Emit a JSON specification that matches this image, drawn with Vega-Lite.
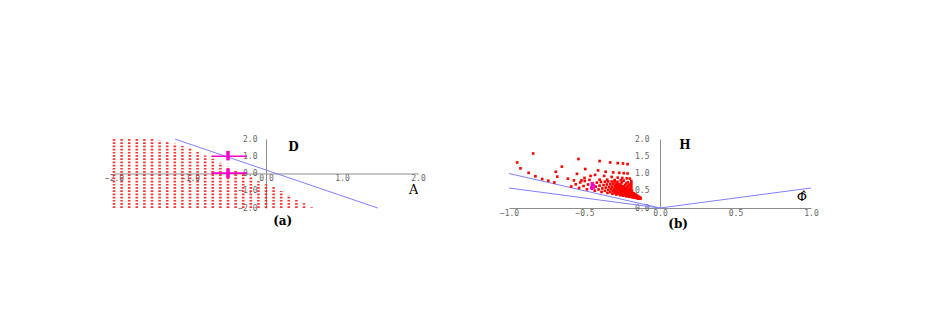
{
  "$schema": "https://vega.github.io/schema/vega-lite/v6.json",
  "background": "white",
  "padding": {"left": 104, "top": 135, "right": 5, "bottom": 5},
  "bounds": "flush",
  "spacing": 91,
  "config": {"view": {"stroke": null}, "axis": {"labelOverlap": false, "labelSeparation": 0, "zindex": 1}},
  "datasets": {
    "cols": [
      {"A": -2.0, "Dlo": -2, "Dhi": 2.0}, {"A": -1.9, "Dlo": -2, "Dhi": 2.0}, {"A": -1.8, "Dlo": -2, "Dhi": 2.0},
      {"A": -1.7, "Dlo": -2, "Dhi": 2.0}, {"A": -1.6, "Dlo": -2, "Dhi": 2.0}, {"A": -1.5, "Dlo": -2, "Dhi": 2.0},
      {"A": -1.4, "Dlo": -2, "Dhi": 1.92}, {"A": -1.3, "Dlo": -2, "Dhi": 1.85}, {"A": -1.2, "Dlo": -2, "Dhi": 1.73},
      {"A": -1.1, "Dlo": -2, "Dhi": 1.6}, {"A": -1.0, "Dlo": -2, "Dhi": 1.45}, {"A": -0.9, "Dlo": -2, "Dhi": 1.25},
      {"A": -0.8, "Dlo": -2, "Dhi": 1.04}, {"A": -0.7, "Dlo": -2, "Dhi": 0.85}, {"A": -0.6, "Dlo": -2, "Dhi": 0.63},
      {"A": -0.5, "Dlo": -2, "Dhi": 0.42}, {"A": -0.4, "Dlo": -2, "Dhi": 0.23}, {"A": -0.3, "Dlo": -2, "Dhi": 0.0},
      {"A": -0.2, "Dlo": -2, "Dhi": -0.22}, {"A": -0.1, "Dlo": -2, "Dhi": -0.45}, {"A": 0.0, "Dlo": -2, "Dhi": -0.63},
      {"A": 0.1, "Dlo": -2, "Dhi": -0.77}, {"A": 0.2, "Dlo": -2, "Dhi": -1.02}, {"A": 0.3, "Dlo": -2, "Dhi": -1.25},
      {"A": 0.4, "Dlo": -2, "Dhi": -1.54}, {"A": 0.5, "Dlo": -2, "Dhi": -1.73}, {"A": 0.6, "Dlo": -2, "Dhi": -1.96}
    ],
    "lineA": [{"x": -1.2, "y": 2.0, "x2": 1.47, "y2": -2.0}],
    "magH": [{"x": -0.72, "x2": -0.25, "y": 1.0}, {"x": -0.72, "x2": -0.25, "y": 0.02}],
    "magV": [{"x": -0.5, "y": 0.76, "y2": 1.31}, {"x": -0.5, "y": -0.26, "y2": 0.28}],
    "textA": [{"x": 0.36, "y": 1.55, "t": "D"}, {"x": 0.22, "y": -2.74, "t": "(a)"}],
    "textAx": [{"x": 1.88, "y": -0.95, "t": "A"}],
    "linesB": [
      {"x": -1, "y": 1.0, "x2": 0, "y2": 0},
      {"x": -1, "y": 0.58, "x2": 0, "y2": 0},
      {"x": 0, "y": 0, "x2": 1, "y2": 0.58}
    ],
    "ptsB": [
      {"phi": -0.133, "H": 0.270}, {"phi": -0.146, "H": 0.280}, {"phi": -0.159, "H": 0.290}, {"phi": -0.172, "H": 0.300},
      {"phi": -0.185, "H": 0.310}, {"phi": -0.205, "H": 0.326}, {"phi": -0.224, "H": 0.341}, {"phi": -0.244, "H": 0.356},
      {"phi": -0.263, "H": 0.371}, {"phi": -0.289, "H": 0.391}, {"phi": -0.315, "H": 0.411}, {"phi": -0.348, "H": 0.436},
      {"phi": -0.387, "H": 0.467}, {"phi": -0.432, "H": 0.502}, {"phi": -0.484, "H": 0.542}, {"phi": -0.536, "H": 0.583},
      {"phi": -0.588, "H": 0.623},
      {"phi": -0.139, "H": 0.279}, {"phi": -0.165, "H": 0.304}, {"phi": -0.191, "H": 0.329}, {"phi": -0.213, "H": 0.351},
      {"phi": -0.233, "H": 0.370}, {"phi": -0.252, "H": 0.389}, {"phi": -0.275, "H": 0.410}, {"phi": -0.300, "H": 0.436},
      {"phi": -0.329, "H": 0.464}, {"phi": -0.365, "H": 0.498}, {"phi": -0.407, "H": 0.539}, {"phi": -0.455, "H": 0.586},
      {"phi": -0.506, "H": 0.636}, {"phi": -0.558, "H": 0.686},
      {"phi": -0.133, "H": 0.275}, {"phi": -0.146, "H": 0.290}, {"phi": -0.158, "H": 0.305}, {"phi": -0.171, "H": 0.320},
      {"phi": -0.184, "H": 0.335}, {"phi": -0.203, "H": 0.358}, {"phi": -0.222, "H": 0.380}, {"phi": -0.241, "H": 0.403},
      {"phi": -0.260, "H": 0.425}, {"phi": -0.286, "H": 0.455}, {"phi": -0.311, "H": 0.485}, {"phi": -0.343, "H": 0.523},
      {"phi": -0.382, "H": 0.568}, {"phi": -0.426, "H": 0.620}, {"phi": -0.477, "H": 0.681}, {"phi": -0.528, "H": 0.741},
      {"phi": -0.139, "H": 0.286}, {"phi": -0.164, "H": 0.321}, {"phi": -0.189, "H": 0.356}, {"phi": -0.211, "H": 0.386},
      {"phi": -0.230, "H": 0.412}, {"phi": -0.249, "H": 0.439}, {"phi": -0.271, "H": 0.469}, {"phi": -0.296, "H": 0.504},
      {"phi": -0.325, "H": 0.543}, {"phi": -0.359, "H": 0.591}, {"phi": -0.400, "H": 0.648}, {"phi": -0.448, "H": 0.713},
      {"phi": -0.498, "H": 0.783},
      {"phi": -0.132, "H": 0.280}, {"phi": -0.145, "H": 0.300}, {"phi": -0.157, "H": 0.319}, {"phi": -0.170, "H": 0.339},
      {"phi": -0.182, "H": 0.359}, {"phi": -0.201, "H": 0.389}, {"phi": -0.219, "H": 0.419}, {"phi": -0.238, "H": 0.448},
      {"phi": -0.256, "H": 0.478}, {"phi": -0.281, "H": 0.518}, {"phi": -0.306, "H": 0.557}, {"phi": -0.337, "H": 0.607},
      {"phi": -0.374, "H": 0.666}, {"phi": -0.418, "H": 0.736}, {"phi": -0.467, "H": 0.815},
      {"phi": -0.138, "H": 0.293}, {"phi": -0.163, "H": 0.338}, {"phi": -0.187, "H": 0.382}, {"phi": -0.208, "H": 0.421},
      {"phi": -0.227, "H": 0.454}, {"phi": -0.245, "H": 0.487}, {"phi": -0.266, "H": 0.526}, {"phi": -0.291, "H": 0.571},
      {"phi": -0.318, "H": 0.620}, {"phi": -0.352, "H": 0.681}, {"phi": -0.391, "H": 0.754},
      {"phi": -0.132, "H": 0.285}, {"phi": -0.144, "H": 0.309}, {"phi": -0.156, "H": 0.334}, {"phi": -0.168, "H": 0.358},
      {"phi": -0.180, "H": 0.383}, {"phi": -0.198, "H": 0.419}, {"phi": -0.216, "H": 0.456}, {"phi": -0.234, "H": 0.493},
      {"phi": -0.252, "H": 0.530}, {"phi": -0.275, "H": 0.579}, {"phi": -0.299, "H": 0.628}, {"phi": -0.329, "H": 0.689},
      {"phi": -0.365, "H": 0.763},
      {"phi": -0.138, "H": 0.300}, {"phi": -0.161, "H": 0.354}, {"phi": -0.184, "H": 0.407}, {"phi": -0.205, "H": 0.454},
      {"phi": -0.223, "H": 0.494}, {"phi": -0.240, "H": 0.534}, {"phi": -0.261, "H": 0.581}, {"phi": -0.284, "H": 0.635},
      {"phi": -0.310, "H": 0.695}, {"phi": -0.343, "H": 0.768},
      {"phi": -0.131, "H": 0.289}, {"phi": -0.143, "H": 0.318}, {"phi": -0.154, "H": 0.347}, {"phi": -0.166, "H": 0.376},
      {"phi": -0.177, "H": 0.405}, {"phi": -0.194, "H": 0.448}, {"phi": -0.212, "H": 0.492}, {"phi": -0.229, "H": 0.535},
      {"phi": -0.246, "H": 0.579}, {"phi": -0.269, "H": 0.637}, {"phi": -0.292, "H": 0.695}, {"phi": -0.320, "H": 0.767},
      {"phi": -0.137, "H": 0.307}, {"phi": -0.159, "H": 0.369}, {"phi": -0.181, "H": 0.431}, {"phi": -0.201, "H": 0.486},
      {"phi": -0.217, "H": 0.532}, {"phi": -0.234, "H": 0.579}, {"phi": -0.254, "H": 0.634}, {"phi": -0.276, "H": 0.696},
      {"phi": -0.301, "H": 0.766},
      {"phi": -0.131, "H": 0.293}, {"phi": -0.142, "H": 0.327}, {"phi": -0.152, "H": 0.360}, {"phi": -0.163, "H": 0.393},
      {"phi": -0.174, "H": 0.426}, {"phi": -0.190, "H": 0.476}, {"phi": -0.207, "H": 0.526}, {"phi": -0.223, "H": 0.576},
      {"phi": -0.239, "H": 0.626}, {"phi": -0.261, "H": 0.693}, {"phi": -0.282, "H": 0.759},
      {"phi": -0.186, "H": 0.502}, {"phi": -0.201, "H": 0.558}, {"phi": -0.216, "H": 0.614}, {"phi": -0.231, "H": 0.670},
      {"phi": -0.252, "H": 0.745},
      {"phi": -0.195, "H": 0.588}, {"phi": -0.209, "H": 0.649}, {"phi": -0.223, "H": 0.711}, {"phi": -0.241, "H": 0.793},
      {"phi": -0.201, "H": 0.682}, {"phi": -0.213, "H": 0.748},
      {"phi": -0.19, "H": 0.53}, {"phi": -0.19, "H": 0.60}, {"phi": -0.19, "H": 0.66}, {"phi": -0.19, "H": 0.72}, {"phi": -0.19, "H": 0.78},
      {"phi": -0.40, "H": 1.36}, {"phi": -0.33, "H": 1.32}, {"phi": -0.28, "H": 1.30}, {"phi": -0.245, "H": 1.29}, {"phi": -0.215, "H": 1.27},
      {"phi": -0.41, "H": 1.09}, {"phi": -0.36, "H": 1.05}, {"phi": -0.31, "H": 1.03}, {"phi": -0.27, "H": 1.02}, {"phi": -0.24, "H": 1.01}, {"phi": -0.215, "H": 1.0},
      {"phi": -0.43, "H": 0.96}, {"phi": -0.37, "H": 0.93}, {"phi": -0.32, "H": 0.90}, {"phi": -0.28, "H": 0.88}, {"phi": -0.25, "H": 0.87}, {"phi": -0.22, "H": 0.86}, {"phi": -0.2, "H": 0.85},
      {"phi": -0.946, "H": 1.32}, {"phi": -0.924, "H": 1.15}, {"phi": -0.87, "H": 1.02}, {"phi": -0.825, "H": 0.92}, {"phi": -0.78, "H": 0.84}, {"phi": -0.74, "H": 0.79}, {"phi": -0.70, "H": 0.74},
      {"phi": -0.84, "H": 1.58}, {"phi": -0.54, "H": 1.42}, {"phi": -0.65, "H": 1.20}, {"phi": -0.495, "H": 1.13}, {"phi": -0.69, "H": 1.05},
      {"phi": -0.55, "H": 0.99}, {"phi": -0.68, "H": 0.91}, {"phi": -0.57, "H": 0.80}, {"phi": -0.61, "H": 0.85}, {"phi": -0.50, "H": 0.87},
      {"phi": -0.46, "H": 0.93}, {"phi": -0.52, "H": 0.80}, {"phi": -0.40, "H": 0.82}, {"phi": -0.35, "H": 0.82}, {"phi": -0.30, "H": 0.81}, {"phi": -0.26, "H": 0.80}
    ],
    "magB": [
      {"phi": -0.45, "H": 0.56}, {"phi": -0.45, "H": 0.60}, {"phi": -0.45, "H": 0.64}, {"phi": -0.45, "H": 0.68},
      {"phi": -0.45, "H": 0.72}, {"phi": -0.44, "H": 0.58}, {"phi": -0.44, "H": 0.66}
    ],
    "textB": [{"x": 0.165, "y": 1.83, "t": "H"}, {"x": 0.12, "y": -0.46, "t": "(b)"}],
    "textBx": [{"x": 0.94, "y": 0.32, "t": "Φ̂"}]
  },
  "hconcat": [
    {
      "width": 304,
      "height": 69,
      "layer": [
        {
          "data": {"name": "cols"},
          "mark": {"type": "rule", "color": "#ff0000", "strokeWidth": 2.6, "strokeDash": [1.7, 1.5], "opacity": 0.8},
          "encoding": {
            "x": {"field": "A", "type": "quantitative", "title": null,
              "scale": {"domain": [-2, 2], "nice": false, "zero": false},
              "axis": {"orient": "bottom", "offset": -34.5, "values": [-2, -1, 0, 1, 2], "tickCount": 10, "format": ".1f", "grid": false,
                "ticks": false, "tickSize": 0, "domainColor": "#8c8c8c", "domainWidth": 1,
                "labelFont": "DejaVu Sans Mono", "labelFontSize": 8, "labelColor": "#666666", "labelPadding": 1,
                "labelFlush": false, "labelOverlap": false}},
            "y": {"field": "Dlo", "type": "quantitative", "title": null,
              "scale": {"domain": [-2, 2], "nice": false, "zero": false},
              "axis": {"orient": "left", "offset": -152, "values": [-2, -1, 0, 1, 2], "tickCount": 10, "format": ".1f", "grid": false,
                "ticks": false, "tickSize": 0, "domainColor": "#8c8c8c", "domainWidth": 1,
                "labelFont": "DejaVu Sans Mono", "labelFontSize": 8, "labelColor": "#666666", "labelPadding": 9,
                "labelOverlap": false}},
            "y2": {"field": "Dhi"}
          }
        },
        {
          "data": {"name": "lineA"},
          "mark": {"type": "rule", "color": "#8080ff", "strokeWidth": 1},
          "encoding": {
            "x": {"field": "x", "type": "quantitative"},
            "y": {"field": "y", "type": "quantitative"},
            "x2": {"field": "x2"},
            "y2": {"field": "y2"}
          }
        },
        {
          "data": {"name": "magH"},
          "mark": {"type": "rule", "color": "#ff00cc", "strokeWidth": 1.6},
          "encoding": {
            "x": {"field": "x", "type": "quantitative"},
            "x2": {"field": "x2"},
            "y": {"field": "y", "type": "quantitative"}
          }
        },
        {
          "data": {"name": "magV"},
          "mark": {"type": "rule", "color": "#ff00cc", "strokeWidth": 3.5},
          "encoding": {
            "x": {"field": "x", "type": "quantitative"},
            "y": {"field": "y", "type": "quantitative"},
            "y2": {"field": "y2"}
          }
        },
        {
          "data": {"name": "textA"},
          "mark": {"type": "text", "font": "DejaVu Serif", "fontWeight": "bold", "fontSize": 12, "color": "#000000"},
          "encoding": {
            "x": {"field": "x", "type": "quantitative"},
            "y": {"field": "y", "type": "quantitative"},
            "text": {"field": "t"}
          }
        },
        {
          "data": {"name": "textAx"},
          "mark": {"type": "text", "font": "DejaVu Serif", "fontSize": 13, "color": "#000000", "align": "left", "clip": true},
          "encoding": {
            "x": {"field": "x", "type": "quantitative"},
            "y": {"field": "y", "type": "quantitative"},
            "text": {"field": "t"}
          }
        }
      ]
    },
    {
      "width": 302,
      "height": 69,
      "layer": [
        {
          "data": {"name": "linesB"},
          "mark": {"type": "rule", "color": "#8080ff", "strokeWidth": 1},
          "encoding": {
            "x": {"field": "x", "type": "quantitative", "title": null,
              "scale": {"domain": [-1, 1], "nice": false, "zero": false},
              "axis": {"orient": "bottom", "values": [-1, -0.5, 0, 0.5, 1], "tickCount": 10, "format": ".1f", "grid": false,
                "ticks": false, "tickSize": 0, "domainColor": "#8c8c8c", "domainWidth": 1,
                "labelFont": "DejaVu Sans Mono", "labelFontSize": 8, "labelColor": "#666666", "labelPadding": 1,
                "labelFlush": false, "labelOverlap": false}},
            "y": {"field": "y", "type": "quantitative", "title": null,
              "scale": {"domain": [0, 2], "nice": false, "zero": false},
              "axis": {"orient": "left", "offset": -151, "values": [0, 0.5, 1, 1.5, 2], "tickCount": 10, "format": ".1f", "grid": false,
                "ticks": false, "tickSize": 0, "domainColor": "#8c8c8c", "domainWidth": 1,
                "labelFont": "DejaVu Sans Mono", "labelFontSize": 8, "labelColor": "#666666", "labelPadding": 11,
                "labelOverlap": false}},
            "x2": {"field": "x2"},
            "y2": {"field": "y2"}
          }
        },
        {
          "data": {"name": "ptsB"},
          "mark": {"type": "square", "size": 7, "color": "#ff0000", "opacity": 1},
          "encoding": {
            "x": {"field": "phi", "type": "quantitative"},
            "y": {"field": "H", "type": "quantitative"}
          }
        },
        {
          "data": {"name": "magB"},
          "mark": {"type": "square", "size": 7, "color": "#ff00cc", "opacity": 1},
          "encoding": {
            "x": {"field": "phi", "type": "quantitative"},
            "y": {"field": "H", "type": "quantitative"}
          }
        },
        {
          "data": {"name": "textB"},
          "mark": {"type": "text", "font": "DejaVu Serif", "fontWeight": "bold", "fontSize": 12, "color": "#000000"},
          "encoding": {
            "x": {"field": "x", "type": "quantitative"},
            "y": {"field": "y", "type": "quantitative"},
            "text": {"field": "t"}
          }
        },
        {
          "data": {"name": "textBx"},
          "mark": {"type": "text", "font": "DejaVu Sans", "fontSize": 13, "color": "#000000"},
          "encoding": {
            "x": {"field": "x", "type": "quantitative"},
            "y": {"field": "y", "type": "quantitative"},
            "text": {"field": "t"}
          }
        }
      ]
    }
  ]
}
